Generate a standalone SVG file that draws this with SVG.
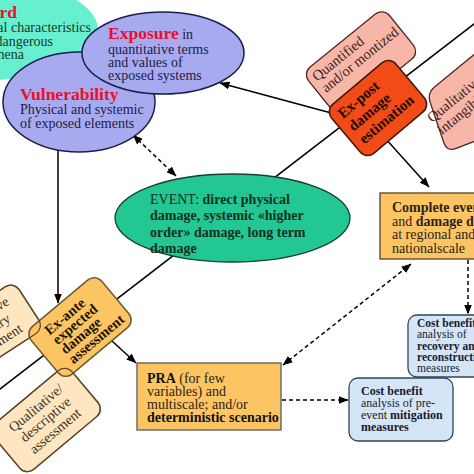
<svg xmlns="http://www.w3.org/2000/svg" width="474" height="474" viewBox="0 0 474 474">
<defs>
<marker id="ah" viewBox="0 0 10 8" refX="9.5" refY="4" markerWidth="10" markerHeight="8" markerUnits="userSpaceOnUse" orient="auto-start-reverse"><path d="M0,0 L10,4 L0,8 z" fill="#000"/></marker>
<rect id="boxQM" x="-50" y="-28" width="100" height="56" rx="10"/>
<rect id="boxQD" x="-51" y="-30" width="102" height="60" rx="10"/>
</defs>
<style>
text{font-family:"Liberation Serif","Times New Roman",serif;font-size:14px;fill:#1c1c44}
.b{font-weight:bold}
.red{fill:#e8102c;font-weight:bold;font-size:17.5px}
.ln{stroke:#000;stroke-width:1.5;fill:none}
.da{stroke-dasharray:4 3}
.arr{marker-end:url(#ah)}
.arr2{marker-start:url(#ah);marker-end:url(#ah)}
.lav{fill:#a8aaef;stroke:#1e1e4e;stroke-width:1.5}
.pink{fill:#f8b6a8;stroke:#4a2a22;stroke-width:1.3}
.beige{fill:#fde6c0;stroke:#5a4a30;stroke-width:1.3}
.org{fill:#fcc462;stroke:#6a5a3a;stroke-width:1.5}
.blue{fill:#d4e5f7;stroke:#334455;stroke-width:1.3}
.dk{fill:#2a2418}
.pt{fill:#3a2420;font-size:14.5px}
.bt{fill:#3a3020}
.ev{fill:#13301f}
.cb{font-size:11.5px;fill:#1a1a2a}
.hz{fill:#1a3a2a}
.xa{fill:#1a1408;font-size:14.5px;font-weight:bold}
.xp{fill:#1a0a05;font-size:15px;font-weight:bold}
</style>
<g id="connectors">
<path class="ln" d="M476,22.5 L-2,390.5"/>
<path class="ln arr" d="M335,114 L220,83"/>
<path class="ln da arr2" d="M133,135 L176,176"/>
<path class="ln arr" d="M58,150 L58,303"/>
<path class="ln arr" d="M112,341 L136,363"/>
<path class="ln arr" d="M385,138 L429,187"/>
<path class="ln da arr2" d="M283,365 L411,264"/>
<path class="ln da arr" d="M282,400 L348,400"/>
<path class="ln da arr" d="M468,260 L468,314"/>
</g>
<g id="hazard">
<ellipse cx="-10" cy="30" rx="108" ry="50" fill="#66f0d0"/>
<text x="17" y="18" text-anchor="end" class="red">Hazard</text>
<text x="91" y="32" text-anchor="end" class="hz">Natural characteristics</text>
<text x="53" y="46" text-anchor="end" class="hz">of dangerous</text>
<text x="24" y="59" text-anchor="end" class="hz">phenomena</text>
</g>
<g id="vulnerability">
<ellipse class="lav" cx="79" cy="102" rx="76" ry="50"/>
<text x="20" y="100" class="red">Vulnerability</text>
<text x="20" y="114">Physical and systemic</text>
<text x="20" y="128">of exposed elements</text>
</g>
<g id="exposure">
<ellipse class="lav" cx="163" cy="53" rx="81" ry="41"/>
<text x="108" y="39"><tspan class="red">Exposure</tspan> in</text>
<text x="108" y="54">quantitative terms</text>
<text x="108" y="67">and values of</text>
<text x="108" y="80">exposed systems</text>
</g>
<g id="event">
<ellipse cx="232.5" cy="218" rx="117.5" ry="44" fill="#22c793" stroke="#17402c" stroke-width="1.3"/>
<text x="150" y="203.5" class="ev">EVENT: <tspan class="b">direct physical</tspan></text>
<text x="150" y="220" class="ev b">damage, systemic «higher</text>
<text x="150" y="236.5" class="ev b">order» damage, long term</text>
<text x="150" y="252.5" class="ev b">damage</text>
</g>
<g id="quantified" transform="translate(361,63) rotate(-39)">
<rect class="pink" x="-52" y="-29" width="104" height="58" rx="10"/>
<text x="-46" y="-13" class="pt">Quantified</text>
<text x="-46" y="1.5" class="pt">and/or montized</text>
</g>
<g id="qualitative-intangible">
<path class="pink" d="M430.2,102.5 Q427,93 434.8,86.7 L520,17 L540,17 L540,116 L456.3,148.4 Q447,152 443.8,142.5 Z"/>
<text transform="translate(432,123) rotate(-39)" class="pt">Qualitative/</text>
<text transform="translate(442,135) rotate(-39)" class="pt">intangible</text>
</g>
<g id="ex-post" transform="translate(378,108) rotate(-40)">
<rect x="-42" y="-32" width="84" height="64" rx="10" fill="#f24b17" stroke="#3a1a0a" stroke-width="1.5"/>
<text x="-34" y="-14" class="xp">Ex-post</text>
<text x="-34" y="2.5" class="xp">damage</text>
<text x="-34" y="19" class="xp">estimation</text>
</g>
<g id="complete-event">
<rect class="org" x="380" y="193" width="110" height="66"/>
<text x="392" y="212" class="dk b">Complete event</text>
<text x="392" y="225.5" class="dk">and <tspan class="b">damage data</tspan></text>
<text x="392" y="239" class="dk">at regional and</text>
<text x="392" y="252.5" class="dk">nationalscale</text>
</g>
<g id="quantitative-monetary" transform="translate(-13,332) rotate(-33)">
<use href="#boxQM" class="beige"/>
<text x="0" y="-11" text-anchor="middle" class="bt">Quantitative</text>
<text x="0" y="4" text-anchor="middle" class="bt">monetary</text>
<text x="0" y="19" text-anchor="middle" class="bt">assessment</text>
</g>
<g id="qualitative-descriptive" transform="translate(46,420) rotate(-40)">
<use href="#boxQD" class="beige"/>
<text x="0" y="-11" text-anchor="middle" class="bt">Qualitative/</text>
<text x="0" y="4" text-anchor="middle" class="bt">descriptive</text>
<text x="0" y="19" text-anchor="middle" class="bt">assessment</text>
</g>
<g id="ex-ante" transform="translate(80,327) rotate(-40)">
<rect class="org" x="-46" y="-31" width="92" height="62" rx="10"/>
<text x="-29" y="-13" class="xa">Ex-ante</text>
<text x="-29" y="-0.5" class="xa">expected</text>
<text x="-29" y="12" class="xa">damage</text>
<text x="-29" y="24.5" class="xa">assessment</text>
</g>
<g id="overlap-outlines" fill="none" stroke="#5a4a30" stroke-width="1.3">
<use href="#boxQM" transform="translate(-13,332) rotate(-33)"/>
<use href="#boxQD" transform="translate(46,420) rotate(-40)"/>
</g>
<g id="pra">
<rect class="org" x="137" y="363" width="144" height="67" style="stroke:#6e6e6e"/>
<text x="147" y="383" class="dk"><tspan class="b" style="fill:#111">PRA</tspan> (for few</text>
<text x="147" y="396" class="dk">variables) and</text>
<text x="147" y="409" class="dk">multiscale; and/or</text>
<text x="147" y="422" class="b" style="fill:#111">deterministic scenario</text>
</g>
<g id="cb-recovery">
<rect class="blue" x="408" y="315" width="80" height="62" rx="9"/>
<text x="417" y="327" class="cb b">Cost benefit</text>
<text x="417" y="338.3" class="cb">analysis of</text>
<text x="417" y="349.6" class="cb b">recovery and</text>
<text x="417" y="360.9" class="cb b">reconstruction</text>
<text x="417" y="372.2" class="cb">measures</text>
</g>
<g id="cb-mitigation">
<rect class="blue" x="349" y="378" width="104" height="63" rx="9"/>
<text x="361" y="395" class="cb b" style="font-size:12px">Cost benefit</text>
<text x="361" y="407" class="cb" style="font-size:12px">analysis of  pre-</text>
<text x="361" y="419" class="cb" style="font-size:12px">event <tspan class="b">mitigation</tspan></text>
<text x="361" y="431" class="cb b" style="font-size:12px">measures</text>
</g>
</svg>
